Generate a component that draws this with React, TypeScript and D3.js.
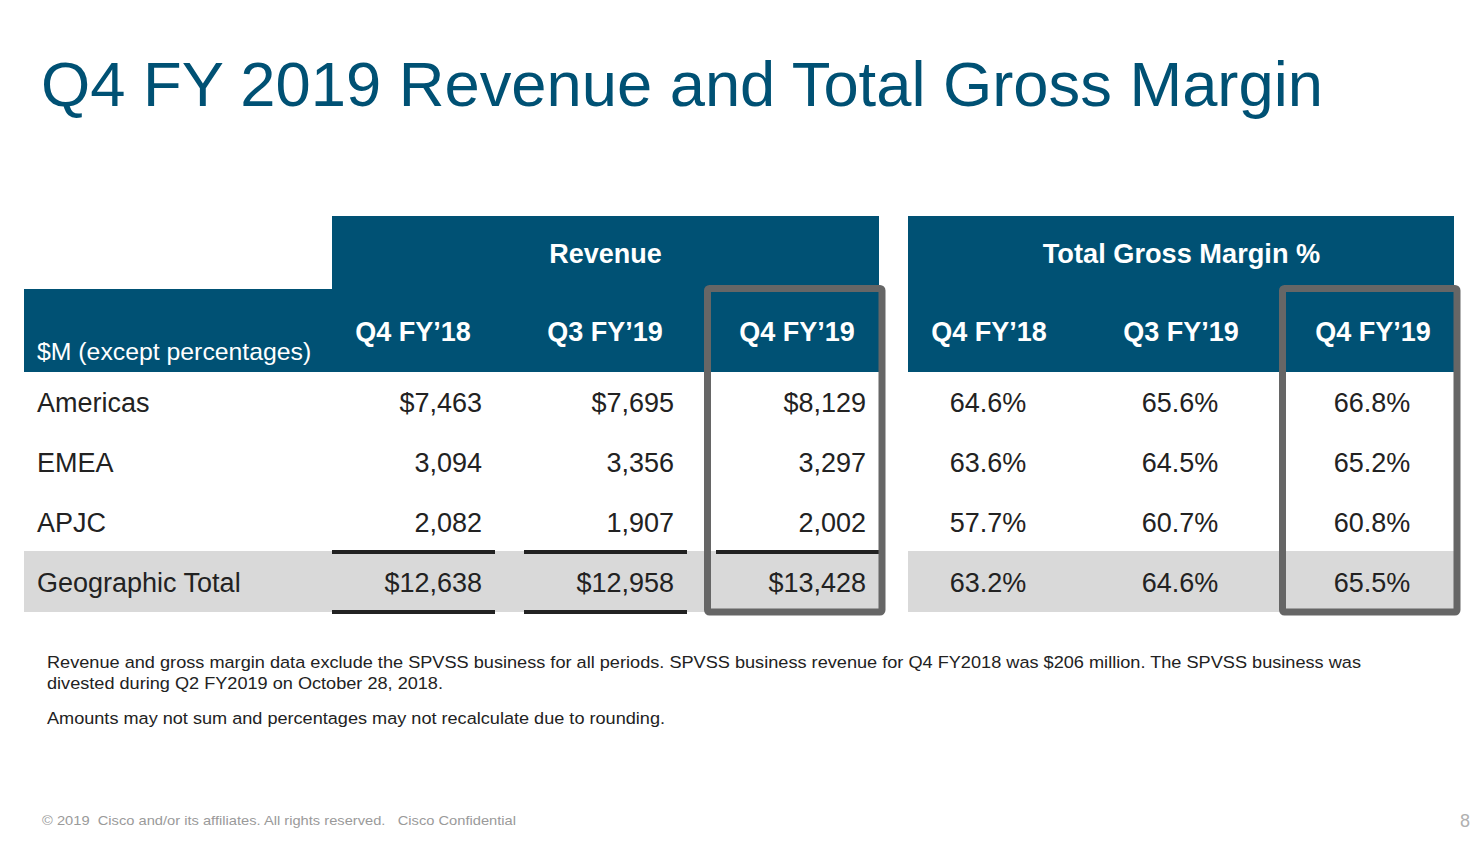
import React from "react";
import * as d3 from "d3";

const regions = ["Americas", "EMEA", "APJC"];
const totalLabel = "Geographic Total";
const periods = ["Q4 FY\u201918", "Q3 FY\u201919", "Q4 FY\u201919"];
const revenueAmericas = [7463, 7695, 8129];
const revenueEMEA = [3094, 3356, 3297];
const revenueAPJC = [2082, 1907, 2002];
const revenueTotal = [12638, 12958, 13428];
const marginAmericas = [64.6, 65.6, 66.8];
const marginEMEA = [63.6, 64.5, 65.2];
const marginAPJC = [57.7, 60.7, 60.8];
const marginTotal = [63.2, 64.6, 65.5];

const title = "Q4 FY 2019 Revenue and Total Gross Margin";
const groupRevenue = "Revenue";
const groupMargin = "Total Gross Margin %";
const unitLabel = "$M (except percentages)";
const note1a = "Revenue and gross margin data exclude the SPVSS business for all periods. SPVSS business revenue for Q4 FY2018 was $206 million. The SPVSS business was";
const note1b = "divested during Q2 FY2019 on October 28, 2018.";
const note2 = "Amounts may not sum and percentages may not recalculate due to rounding.";
const footer = "\u00A9 2019  Cisco and/or its affiliates. All rights reserved.   Cisco Confidential";
const pageNum = "8";

const BLUE = "#005174";
const GRAY_BG = "#d9d9d9";
const BOX = "#666666";
const TXT = "#222222";
const FONT = "'Liberation Sans', Arial, Helvetica, sans-serif";

export default function App() {
  const W = 1483, H = 850;
  const revX = d3.scaleBand<string>().domain(periods).range([332, 908]).paddingInner(0).paddingOuter(0);
  const marX = d3.scaleBand<string>().domain(periods).range([908, 1484]).paddingInner(0).paddingOuter(0);
  const rows = [...regions, totalLabel];
  const rowY = d3.scaleBand<string>().domain(rows).range([372, 612]);
  const revData = [revenueAmericas, revenueEMEA, revenueAPJC, revenueTotal];
  const marData = [marginAmericas, marginEMEA, marginAPJC, marginTotal];
  const fmtNum = d3.format(",");
  const fmtPct = (v: number) => d3.format(".1f")(v) + "%";
  const colW = 163;
  const colCenter = 81;
  const lastRev = revX(periods[2])!;
  const lastMar = marX(periods[2])!;
  const rh = rowY.bandwidth();
  const totalY = rowY(totalLabel)!;

  return (
    <svg width={W} height={H} style={{ position: "absolute", left: 0, top: 0, fontFamily: FONT }}>
      <rect x={0} y={0} width={W} height={H} fill="#fff" />
      <text x={41} y={106} fontSize={63.3} fill={BLUE}>{title}</text>

      {/* header blocks */}
      <rect x={24} y={289} width={332 - 24} height={372 - 289} fill={BLUE} />
      <rect x={332} y={216} width={lastRev + colW - 332} height={372 - 216} fill={BLUE} />
      <rect x={908} y={216} width={lastMar + colW - 908 - 1} height={372 - 216} fill={BLUE} />
      <text x={(332 + lastRev + colW) / 2} y={263} fontSize={27} fontWeight="bold" fill="#fff" textAnchor="middle">{groupRevenue}</text>
      <text x={(908 + lastMar + colW) / 2} y={263} fontSize={27.2} fontWeight="bold" fill="#fff" textAnchor="middle">{groupMargin}</text>
      <text x={37} y={360} fontSize={24.8} fill="#fff">{unitLabel}</text>
      {periods.map((p) => (
        <g key={p}>
          <text x={revX(p)! + colCenter} y={341} fontSize={27} fontWeight="bold" fill="#fff" textAnchor="middle">{p}</text>
          <text x={marX(p)! + colCenter} y={341} fontSize={27} fontWeight="bold" fill="#fff" textAnchor="middle">{p}</text>
        </g>
      ))}

      {/* total row background */}
      <rect x={24} y={totalY - 1} width={lastRev + colW - 24} height={rh + 1} fill={GRAY_BG} />
      <rect x={908} y={totalY - 1} width={lastMar + colW - 908 - 1} height={rh + 1} fill={GRAY_BG} />

      {/* rows */}
      {rows.map((r, i) => {
        const cy = rowY(r)! + rh / 2 + 10;
        return (
          <g key={r}>
            <text x={37} y={cy} fontSize={27} fill={TXT}>{r}</text>
            {periods.map((p, j) => {
              const v = revData[i][j];
              const s = (i === 0 || i === 3 ? "$" : "") + fmtNum(v);
              return (
                <text key={"r" + p} x={revX(p)! + colCenter + 69} y={cy} fontSize={27} fill={TXT} textAnchor="end">{s}</text>
              );
            })}
            {periods.map((p, j) => (
              <text key={"m" + p} x={marX(p)! + colCenter - 1} y={cy} fontSize={27} fill={TXT} textAnchor="middle">{fmtPct(marData[i][j])}</text>
            ))}
          </g>
        );
      })}

      {/* underlines for revenue totals */}
      {periods.map((p) => (
        <g key={"u" + p}>
          <line x1={revX(p)!} x2={revX(p)! + colW} y1={totalY} y2={totalY} stroke="#222" strokeWidth={4} />
          <line x1={revX(p)!} x2={revX(p)! + colW} y1={totalY + rh} y2={totalY + rh} stroke="#222" strokeWidth={4} />
        </g>
      ))}

      {/* highlight boxes */}
      <rect x={lastRev - 8.5} y={288.5} width={colW + 8.5 + 3} height={612 - 288.5} fill="none" stroke={BOX} strokeWidth={7} rx={2} />
      <rect x={lastMar - 9.5} y={288.5} width={colW + 9.5 + 2} height={612 - 288.5} fill="none" stroke={BOX} strokeWidth={7} rx={2} />

      {/* notes */}
      <text x={47} y={668} fontSize={16.8} fill={TXT} textLength={1314} lengthAdjust="spacingAndGlyphs">{note1a}</text>
      <text x={47} y={689} fontSize={16.8} fill={TXT} textLength={396} lengthAdjust="spacingAndGlyphs">{note1b}</text>
      <text x={47} y={724} fontSize={16.8} fill={TXT} textLength={618} lengthAdjust="spacingAndGlyphs">{note2}</text>

      <text x={42} y={825} fontSize={13.5} fill="#9a9a9a" style={{ whiteSpace: "pre" }} textLength={474} lengthAdjust="spacingAndGlyphs">{footer}</text>
      <text x={1470} y={827} fontSize={18} fill="#b0b0b0" textAnchor="end">{pageNum}</text>
    </svg>
  );
}
